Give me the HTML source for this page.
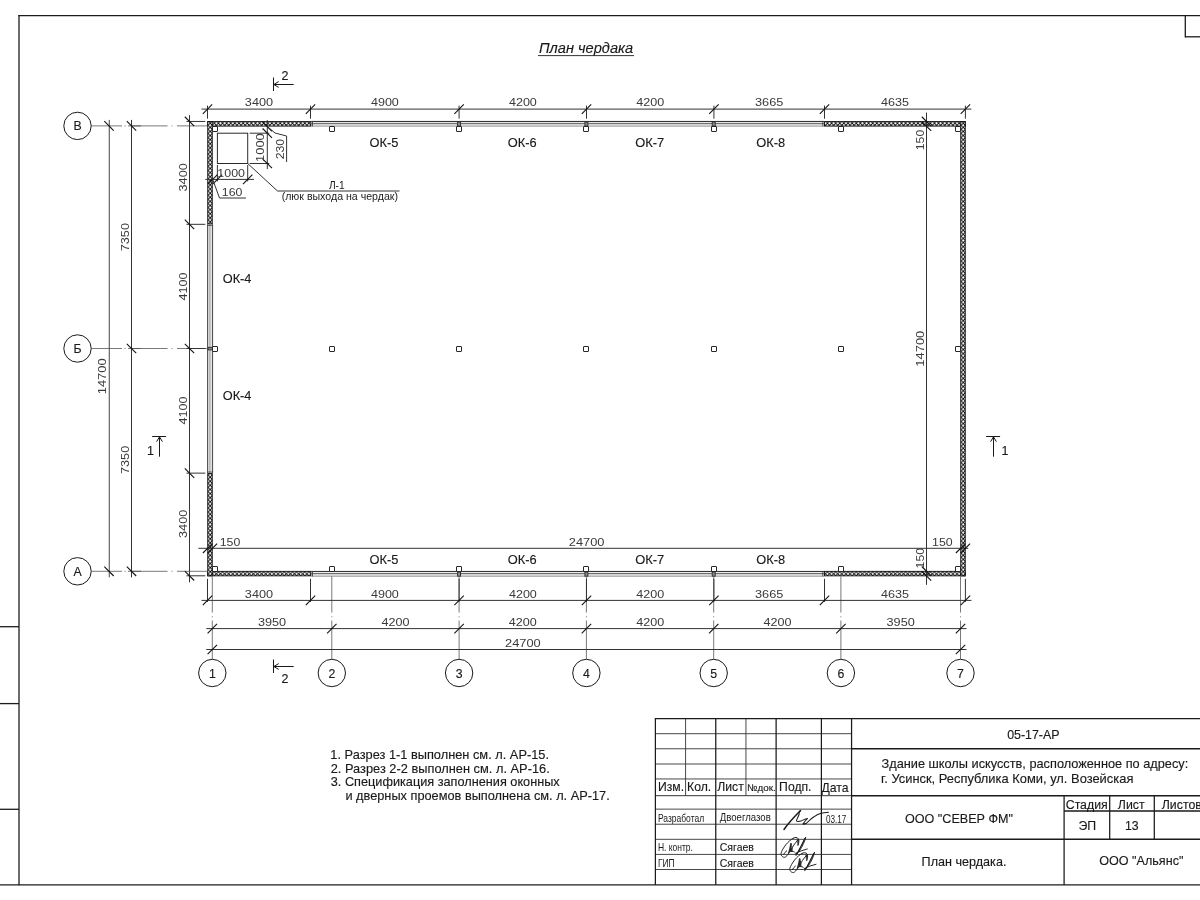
<!DOCTYPE html>
<html lang="ru"><head><meta charset="utf-8"><title>План чердака</title>
<style>html,body{margin:0;padding:0;background:#fff;}body{width:1200px;height:900px;overflow:hidden;}svg{display:block;will-change:transform;font-family:'Liberation Sans', sans-serif;}</style></head>
<body>
<svg width="1200" height="900" viewBox="0 0 1200 900">
<rect width="1200" height="900" fill="#fff"/>
<line x1="18.40" y1="15.70" x2="1200.00" y2="15.70" stroke="#1c1c1c" stroke-width="1.3" />
<line x1="19.00" y1="15.10" x2="19.00" y2="885.30" stroke="#1c1c1c" stroke-width="1.3" />
<line x1="0.00" y1="884.90" x2="1200.00" y2="884.90" stroke="#1c1c1c" stroke-width="1.15" />
<line x1="0.00" y1="626.70" x2="19.00" y2="626.70" stroke="#1c1c1c" stroke-width="1.3" />
<line x1="0.00" y1="703.60" x2="19.00" y2="703.60" stroke="#1c1c1c" stroke-width="1.3" />
<line x1="0.00" y1="809.30" x2="19.00" y2="809.30" stroke="#1c1c1c" stroke-width="1.3" />
<line x1="1185.30" y1="15.70" x2="1185.30" y2="37.40" stroke="#1c1c1c" stroke-width="1.3" />
<line x1="1185.30" y1="36.80" x2="1200.00" y2="36.80" stroke="#1c1c1c" stroke-width="1.3" />
<line x1="655.40" y1="733.69" x2="851.57" y2="733.69" stroke="#333" stroke-width="0.9" />
<line x1="655.40" y1="748.78" x2="851.57" y2="748.78" stroke="#333" stroke-width="0.9" />
<line x1="655.40" y1="764.00" x2="851.57" y2="764.00" stroke="#333" stroke-width="0.9" />
<line x1="655.40" y1="778.96" x2="851.57" y2="778.96" stroke="#333" stroke-width="0.9" />
<line x1="655.40" y1="795.70" x2="851.57" y2="795.70" stroke="#333" stroke-width="1.0" />
<line x1="655.40" y1="809.14" x2="851.57" y2="809.14" stroke="#333" stroke-width="0.9" />
<line x1="655.40" y1="824.23" x2="851.57" y2="824.23" stroke="#333" stroke-width="0.9" />
<line x1="655.40" y1="839.32" x2="851.57" y2="839.32" stroke="#333" stroke-width="0.9" />
<line x1="655.40" y1="854.41" x2="851.57" y2="854.41" stroke="#333" stroke-width="0.9" />
<line x1="655.40" y1="869.50" x2="851.57" y2="869.50" stroke="#333" stroke-width="0.9" />
<line x1="655.40" y1="718.60" x2="655.40" y2="885.00" stroke="#1a1a1a" stroke-width="1.25" />
<line x1="685.58" y1="718.60" x2="685.58" y2="795.70" stroke="#333" stroke-width="0.9" />
<line x1="715.76" y1="718.60" x2="715.76" y2="885.00" stroke="#1a1a1a" stroke-width="1.25" />
<line x1="745.94" y1="718.60" x2="745.94" y2="795.70" stroke="#333" stroke-width="0.9" />
<line x1="776.12" y1="718.60" x2="776.12" y2="885.00" stroke="#1a1a1a" stroke-width="1.25" />
<line x1="821.39" y1="718.60" x2="821.39" y2="885.00" stroke="#1a1a1a" stroke-width="1.25" />
<line x1="851.57" y1="718.60" x2="851.57" y2="885.00" stroke="#1a1a1a" stroke-width="1.25" />
<line x1="654.80" y1="718.60" x2="1200.00" y2="718.60" stroke="#1a1a1a" stroke-width="1.4" />
<line x1="851.57" y1="748.78" x2="1200.00" y2="748.78" stroke="#1a1a1a" stroke-width="1.4" />
<line x1="851.57" y1="795.70" x2="1200.00" y2="795.70" stroke="#1a1a1a" stroke-width="1.4" />
<line x1="851.57" y1="839.32" x2="1200.00" y2="839.32" stroke="#1a1a1a" stroke-width="1.4" />
<line x1="1064.10" y1="795.70" x2="1064.10" y2="885.00" stroke="#1a1a1a" stroke-width="1.25" />
<line x1="1109.70" y1="795.70" x2="1109.70" y2="839.32" stroke="#1a1a1a" stroke-width="1.25" />
<line x1="1154.30" y1="795.70" x2="1154.30" y2="839.32" stroke="#1a1a1a" stroke-width="1.25" />
<line x1="1064.10" y1="811.00" x2="1200.00" y2="811.00" stroke="#1a1a1a" stroke-width="1.4" />
<text transform="translate(657.90 790.60)" font-size="12.2" text-anchor="start" fill="#1a1a1a" stroke="#1a1a1a" stroke-width="0.14">Изм.</text>
<text transform="translate(687.08 790.60)" font-size="12.2" text-anchor="start" fill="#1a1a1a" stroke="#1a1a1a" stroke-width="0.14">Кол.</text>
<text transform="translate(717.26 790.60)" font-size="12.2" text-anchor="start" fill="#1a1a1a" stroke="#1a1a1a" stroke-width="0.14">Лист</text>
<text transform="translate(746.94 790.60)" font-size="9.9" text-anchor="start" fill="#1a1a1a" stroke="#1a1a1a" stroke-width="0.14">№док.</text>
<text transform="translate(779.12 790.60)" font-size="12.2" text-anchor="start" fill="#1a1a1a" stroke="#1a1a1a" stroke-width="0.14">Подп.</text>
<text transform="translate(821.59 791.50)" font-size="12.2" text-anchor="start" fill="#1a1a1a" stroke="#1a1a1a" stroke-width="0.14">Дата</text>
<text transform="translate(657.90 821.93) scale(0.850 1)" font-size="10" text-anchor="start" fill="#1a1a1a" >Разработал</text>
<text transform="translate(719.76 821.23) scale(0.960 1)" font-size="10" text-anchor="start" fill="#1a1a1a" >Двоеглазов</text>
<text transform="translate(825.89 822.83) scale(0.820 1)" font-size="10" text-anchor="start" fill="#1a1a1a" >03.17</text>
<text transform="translate(657.90 851.21) scale(0.850 1)" font-size="10" text-anchor="start" fill="#1a1a1a" >Н. контр.</text>
<text transform="translate(719.76 851.21)" font-size="10.5" text-anchor="start" fill="#1a1a1a" stroke="#1a1a1a" stroke-width="0.14">Сягаев</text>
<text transform="translate(657.90 866.50) scale(0.850 1)" font-size="10" text-anchor="start" fill="#1a1a1a" >ГИП</text>
<text transform="translate(719.76 866.50)" font-size="10.5" text-anchor="start" fill="#1a1a1a" stroke="#1a1a1a" stroke-width="0.14">Сягаев</text>
<text transform="translate(1033.30 738.50)" font-size="12.4" text-anchor="middle" fill="#1a1a1a" stroke="#1a1a1a" stroke-width="0.14">05-17-АР</text>
<text transform="translate(881.55 768.00) scale(1.013 1)" font-size="12.6" text-anchor="start" fill="#1a1a1a" stroke="#1a1a1a" stroke-width="0.14">Здание школы искусств, расположенное по адресу:</text>
<text transform="translate(881.10 783.20) scale(1.024 1)" font-size="12.6" text-anchor="start" fill="#1a1a1a" stroke="#1a1a1a" stroke-width="0.14">г. Усинск, Республика Коми, ул. Возейская</text>
<text transform="translate(959.00 822.50)" font-size="12.6" text-anchor="middle" fill="#1a1a1a" stroke="#1a1a1a" stroke-width="0.14">ООО "СЕВЕР ФМ"</text>
<text transform="translate(964.00 866.10)" font-size="12.6" text-anchor="middle" fill="#1a1a1a" stroke="#1a1a1a" stroke-width="0.14">План чердака.</text>
<text transform="translate(1141.30 865.20)" font-size="12.6" text-anchor="middle" fill="#1a1a1a" stroke="#1a1a1a" stroke-width="0.14">ООО "Альянс"</text>
<text transform="translate(1086.70 808.80)" font-size="12.3" text-anchor="middle" fill="#1a1a1a" stroke="#1a1a1a" stroke-width="0.14">Стадия</text>
<text transform="translate(1131.20 808.80)" font-size="12.3" text-anchor="middle" fill="#1a1a1a" stroke="#1a1a1a" stroke-width="0.14">Лист</text>
<text transform="translate(1161.80 808.80)" font-size="12.3" text-anchor="start" fill="#1a1a1a" stroke="#1a1a1a" stroke-width="0.14">Листов</text>
<text transform="translate(1087.30 829.80)" font-size="12.3" text-anchor="middle" fill="#1a1a1a" stroke="#1a1a1a" stroke-width="0.14">ЭП</text>
<text transform="translate(1131.80 829.80)" font-size="12.3" text-anchor="middle" fill="#1a1a1a" stroke="#1a1a1a" stroke-width="0.14">13</text>
<path d="M160 510 C230 410 330 290 490 130" fill="none" stroke="#1a1a1a" stroke-width="30" stroke-linecap="round" stroke-linejoin="round" transform="translate(776 804) scale(0.05)"/>
<path d="M490 130 C470 160 455 185 462 205 C450 250 415 300 408 335 C420 355 470 350 510 335 C550 318 600 295 632 290 C600 320 560 370 538 402 C560 405 590 395 610 385 C680 310 780 225 900 185 C950 172 1000 168 1050 165" fill="none" stroke="#1a1a1a" stroke-width="20" stroke-linecap="round" stroke-linejoin="round" transform="translate(776 804) scale(0.05)"/>
<path d="M345 125 C250 170 130 320 100 430 C95 480 150 520 190 500 C230 470 260 420 300 360 C330 300 380 220 420 180 M345 125 C370 100 430 100 450 140 C465 180 455 230 440 265 M300 230 C290 290 270 370 250 420 M300 230 C320 290 330 340 320 385 M260 400 C300 380 340 380 370 400 M150 450 C165 420 190 395 215 375 M400 470 C450 380 540 200 595 100 C585 170 520 300 480 360 C460 390 430 420 400 440 M420 440 C470 350 540 220 575 130 M390 425 C460 390 540 360 625 340" fill="none" stroke="#1a1a1a" stroke-width="19" stroke-linecap="round" stroke-linejoin="round" transform="translate(776 832) scale(0.05)"/>
<path d="M290 250 L320 380 L270 390 Z M420 150 L455 160 L440 260 Z" fill="#222" stroke="#222" stroke-width="8" stroke-linecap="round" stroke-linejoin="round" transform="translate(776 832) scale(0.05)"/>
<path d="M345 125 C250 170 130 320 100 430 C95 480 150 520 190 500 C230 470 260 420 300 360 C330 300 380 220 420 180 M345 125 C370 100 430 100 450 140 C465 180 455 230 440 265 M300 230 C290 290 270 370 250 420 M300 230 C320 290 330 340 320 385 M260 400 C300 380 340 380 370 400 M150 450 C165 420 190 395 215 375 M400 470 C450 380 540 200 595 100 C585 170 520 300 480 360 C460 390 430 420 400 440 M420 440 C470 350 540 220 575 130 M390 425 C460 390 540 360 625 340" fill="none" stroke="#1a1a1a" stroke-width="19" stroke-linecap="round" stroke-linejoin="round" transform="translate(784.75 847.25) scale(0.05)"/>
<path d="M290 250 L320 380 L270 390 Z M420 150 L455 160 L440 260 Z" fill="#222" stroke="#222" stroke-width="8" stroke-linecap="round" stroke-linejoin="round" transform="translate(784.75 847.25) scale(0.05)"/>
<defs><pattern id="hx" width="4.115" height="4.115" patternUnits="userSpaceOnUse" patternTransform="translate(0.335 3.865)"><rect width="4.115" height="4.115" fill="#fff"/><path d="M-1 -1 L5.115 5.115 M-1 5.115 L5.115 -1" stroke="#000" stroke-width="0.85" fill="none"/></pattern></defs>
<rect x="311.30" y="123.80" width="512.70" height="2.30" fill="#d4d4d4"/>
<line x1="311.30" y1="121.45" x2="824.00" y2="121.45" stroke="#1c1c1c" stroke-width="0.95" />
<line x1="311.30" y1="123.35" x2="824.00" y2="123.35" stroke="#4a4a4a" stroke-width="0.9" />
<line x1="311.30" y1="126.30" x2="824.00" y2="126.30" stroke="#999" stroke-width="0.8" />
<line x1="312.50" y1="121.45" x2="312.50" y2="126.30" stroke="#333" stroke-width="0.8" />
<line x1="822.80" y1="121.45" x2="822.80" y2="126.30" stroke="#333" stroke-width="0.8" />
<rect x="457.60" y="121.95" width="3.00" height="4.15" fill="#8c8c8c" stroke="#2a2a2a" stroke-width="0.9" />
<rect x="584.90" y="121.95" width="3.00" height="4.15" fill="#8c8c8c" stroke="#2a2a2a" stroke-width="0.9" />
<rect x="712.20" y="121.95" width="3.00" height="4.15" fill="#8c8c8c" stroke="#2a2a2a" stroke-width="0.9" />
<rect x="311.30" y="574.00" width="512.70" height="2.20" fill="#d4d4d4"/>
<line x1="311.30" y1="571.45" x2="824.00" y2="571.45" stroke="#1c1c1c" stroke-width="0.95" />
<line x1="311.30" y1="573.40" x2="824.00" y2="573.40" stroke="#4a4a4a" stroke-width="0.9" />
<line x1="311.30" y1="576.40" x2="824.00" y2="576.40" stroke="#999" stroke-width="0.8" />
<line x1="312.50" y1="571.45" x2="312.50" y2="576.40" stroke="#333" stroke-width="0.8" />
<line x1="822.80" y1="571.45" x2="822.80" y2="576.40" stroke="#333" stroke-width="0.8" />
<rect x="457.60" y="571.95" width="3.00" height="4.25" fill="#8c8c8c" stroke="#2a2a2a" stroke-width="0.9" />
<rect x="584.90" y="571.95" width="3.00" height="4.25" fill="#8c8c8c" stroke="#2a2a2a" stroke-width="0.9" />
<rect x="712.20" y="571.95" width="3.00" height="4.25" fill="#8c8c8c" stroke="#2a2a2a" stroke-width="0.9" />
<rect x="207.60" y="224.32" width="5.0" height="248.82" fill="#e2e2e2"/>
<line x1="207.60" y1="224.32" x2="207.60" y2="473.13" stroke="#333" stroke-width="0.9" />
<line x1="212.60" y1="224.32" x2="212.60" y2="473.13" stroke="#333" stroke-width="0.9" />
<line x1="209.90" y1="224.32" x2="209.90" y2="473.13" stroke="#9a9a9a" stroke-width="0.9" />
<line x1="207.30" y1="225.42" x2="212.70" y2="225.42" stroke="#333" stroke-width="0.8" />
<line x1="207.30" y1="472.03" x2="212.70" y2="472.03" stroke="#333" stroke-width="0.8" />
<rect x="208.10" y="347.30" width="4.40" height="2.60" fill="#8c8c8c" stroke="#2a2a2a" stroke-width="0.9" />
<rect x="207.75" y="121.60" width="103.10" height="4.50" fill="url(#hx)" stroke="#0c0c0c" stroke-width="0.9"/>
<rect x="824.45" y="121.60" width="140.80" height="4.50" fill="url(#hx)" stroke="#0c0c0c" stroke-width="0.9"/>
<rect x="207.75" y="571.35" width="103.10" height="4.50" fill="url(#hx)" stroke="#0c0c0c" stroke-width="0.9"/>
<rect x="824.45" y="571.35" width="140.80" height="4.50" fill="url(#hx)" stroke="#0c0c0c" stroke-width="0.9"/>
<rect x="207.75" y="121.60" width="4.50" height="102.27" fill="url(#hx)" stroke="#0c0c0c" stroke-width="0.9"/>
<rect x="207.75" y="473.58" width="4.50" height="102.27" fill="url(#hx)" stroke="#0c0c0c" stroke-width="0.9"/>
<rect x="960.75" y="121.60" width="4.50" height="454.25" fill="url(#hx)" stroke="#0c0c0c" stroke-width="0.9"/>
<rect x="212.50" y="126.50" width="5.00" height="5.00" fill="#fff" stroke="#262626" stroke-width="1.0" rx="0.4"/>
<rect x="212.50" y="346.50" width="5.00" height="5.00" fill="#fff" stroke="#262626" stroke-width="1.0" rx="0.4"/>
<rect x="212.50" y="566.50" width="5.00" height="5.00" fill="#fff" stroke="#262626" stroke-width="1.0" rx="0.4"/>
<rect x="329.50" y="126.50" width="5.00" height="5.00" fill="#fff" stroke="#262626" stroke-width="1.0" rx="0.4"/>
<rect x="329.50" y="346.50" width="5.00" height="5.00" fill="#fff" stroke="#262626" stroke-width="1.0" rx="0.4"/>
<rect x="329.50" y="566.50" width="5.00" height="5.00" fill="#fff" stroke="#262626" stroke-width="1.0" rx="0.4"/>
<rect x="456.50" y="126.50" width="5.00" height="5.00" fill="#fff" stroke="#262626" stroke-width="1.0" rx="0.4"/>
<rect x="456.50" y="346.50" width="5.00" height="5.00" fill="#fff" stroke="#262626" stroke-width="1.0" rx="0.4"/>
<rect x="456.50" y="566.50" width="5.00" height="5.00" fill="#fff" stroke="#262626" stroke-width="1.0" rx="0.4"/>
<rect x="583.50" y="126.50" width="5.00" height="5.00" fill="#fff" stroke="#262626" stroke-width="1.0" rx="0.4"/>
<rect x="583.50" y="346.50" width="5.00" height="5.00" fill="#fff" stroke="#262626" stroke-width="1.0" rx="0.4"/>
<rect x="583.50" y="566.50" width="5.00" height="5.00" fill="#fff" stroke="#262626" stroke-width="1.0" rx="0.4"/>
<rect x="711.50" y="126.50" width="5.00" height="5.00" fill="#fff" stroke="#262626" stroke-width="1.0" rx="0.4"/>
<rect x="711.50" y="346.50" width="5.00" height="5.00" fill="#fff" stroke="#262626" stroke-width="1.0" rx="0.4"/>
<rect x="711.50" y="566.50" width="5.00" height="5.00" fill="#fff" stroke="#262626" stroke-width="1.0" rx="0.4"/>
<rect x="838.50" y="126.50" width="5.00" height="5.00" fill="#fff" stroke="#262626" stroke-width="1.0" rx="0.4"/>
<rect x="838.50" y="346.50" width="5.00" height="5.00" fill="#fff" stroke="#262626" stroke-width="1.0" rx="0.4"/>
<rect x="838.50" y="566.50" width="5.00" height="5.00" fill="#fff" stroke="#262626" stroke-width="1.0" rx="0.4"/>
<rect x="955.50" y="126.50" width="5.00" height="5.00" fill="#fff" stroke="#262626" stroke-width="1.0" rx="0.4"/>
<rect x="955.50" y="346.50" width="5.00" height="5.00" fill="#fff" stroke="#262626" stroke-width="1.0" rx="0.4"/>
<rect x="955.50" y="566.50" width="5.00" height="5.00" fill="#fff" stroke="#262626" stroke-width="1.0" rx="0.4"/>
<rect x="217.40" y="133.20" width="30.30" height="30.30" fill="none" stroke="#2a2a2a" stroke-width="1.0" />
<line x1="91.20" y1="125.90" x2="122.00" y2="125.90" stroke="#6a6a6a" stroke-width="0.9" />
<line x1="124.60" y1="125.90" x2="125.60" y2="125.90" stroke="#6a6a6a" stroke-width="0.9" />
<line x1="128.00" y1="125.90" x2="167.50" y2="125.90" stroke="#6a6a6a" stroke-width="0.9" />
<line x1="171.60" y1="125.90" x2="172.60" y2="125.90" stroke="#6a6a6a" stroke-width="0.9" />
<line x1="177.00" y1="125.90" x2="207.30" y2="125.90" stroke="#6a6a6a" stroke-width="0.9" />
<line x1="131.50" y1="125.90" x2="141.00" y2="125.90" stroke="#555" stroke-width="0.9" />
<circle cx="77.5" cy="125.90" r="13.7" fill="#fff" stroke="#1a1a1a" stroke-width="1.0"/>
<text transform="translate(77.50 130.20)" font-size="12.3" text-anchor="middle" fill="#1a1a1a" stroke="#1a1a1a" stroke-width="0.14">В</text>
<line x1="91.20" y1="348.50" x2="122.00" y2="348.50" stroke="#6a6a6a" stroke-width="0.9" />
<line x1="124.60" y1="348.50" x2="125.60" y2="348.50" stroke="#6a6a6a" stroke-width="0.9" />
<line x1="128.00" y1="348.50" x2="167.50" y2="348.50" stroke="#6a6a6a" stroke-width="0.9" />
<line x1="171.60" y1="348.50" x2="172.60" y2="348.50" stroke="#6a6a6a" stroke-width="0.9" />
<line x1="177.00" y1="348.50" x2="207.30" y2="348.50" stroke="#6a6a6a" stroke-width="0.9" />
<line x1="131.50" y1="348.50" x2="141.00" y2="348.50" stroke="#555" stroke-width="0.9" />
<circle cx="77.5" cy="348.50" r="13.7" fill="#fff" stroke="#1a1a1a" stroke-width="1.0"/>
<text transform="translate(77.50 352.80)" font-size="12.3" text-anchor="middle" fill="#1a1a1a" stroke="#1a1a1a" stroke-width="0.14">Б</text>
<line x1="91.20" y1="571.30" x2="122.00" y2="571.30" stroke="#6a6a6a" stroke-width="0.9" />
<line x1="124.60" y1="571.30" x2="125.60" y2="571.30" stroke="#6a6a6a" stroke-width="0.9" />
<line x1="128.00" y1="571.30" x2="167.50" y2="571.30" stroke="#6a6a6a" stroke-width="0.9" />
<line x1="171.60" y1="571.30" x2="172.60" y2="571.30" stroke="#6a6a6a" stroke-width="0.9" />
<line x1="177.00" y1="571.30" x2="207.30" y2="571.30" stroke="#6a6a6a" stroke-width="0.9" />
<line x1="131.50" y1="571.30" x2="141.00" y2="571.30" stroke="#555" stroke-width="0.9" />
<circle cx="77.5" cy="571.30" r="13.7" fill="#fff" stroke="#1a1a1a" stroke-width="1.0"/>
<text transform="translate(77.50 575.60)" font-size="12.3" text-anchor="middle" fill="#1a1a1a" stroke="#1a1a1a" stroke-width="0.14">А</text>
<line x1="212.30" y1="576.30" x2="212.30" y2="612.50" stroke="#6a6a6a" stroke-width="0.9" />
<line x1="212.30" y1="616.30" x2="212.30" y2="617.30" stroke="#6a6a6a" stroke-width="0.9" />
<line x1="212.30" y1="620.50" x2="212.30" y2="659.30" stroke="#6a6a6a" stroke-width="0.9" />
<circle cx="212.30" cy="673.0" r="13.7" fill="#fff" stroke="#1a1a1a" stroke-width="1.0"/>
<text transform="translate(212.30 677.60)" font-size="12.3" text-anchor="middle" fill="#1a1a1a" stroke="#1a1a1a" stroke-width="0.14">1</text>
<line x1="331.80" y1="576.30" x2="331.80" y2="612.50" stroke="#6a6a6a" stroke-width="0.9" />
<line x1="331.80" y1="616.30" x2="331.80" y2="617.30" stroke="#6a6a6a" stroke-width="0.9" />
<line x1="331.80" y1="620.50" x2="331.80" y2="659.30" stroke="#6a6a6a" stroke-width="0.9" />
<circle cx="331.80" cy="673.0" r="13.7" fill="#fff" stroke="#1a1a1a" stroke-width="1.0"/>
<text transform="translate(331.80 677.60)" font-size="12.3" text-anchor="middle" fill="#1a1a1a" stroke="#1a1a1a" stroke-width="0.14">2</text>
<line x1="459.10" y1="576.30" x2="459.10" y2="612.50" stroke="#6a6a6a" stroke-width="0.9" />
<line x1="459.10" y1="616.30" x2="459.10" y2="617.30" stroke="#6a6a6a" stroke-width="0.9" />
<line x1="459.10" y1="620.50" x2="459.10" y2="659.30" stroke="#6a6a6a" stroke-width="0.9" />
<circle cx="459.10" cy="673.0" r="13.7" fill="#fff" stroke="#1a1a1a" stroke-width="1.0"/>
<text transform="translate(459.10 677.60)" font-size="12.3" text-anchor="middle" fill="#1a1a1a" stroke="#1a1a1a" stroke-width="0.14">3</text>
<line x1="586.40" y1="576.30" x2="586.40" y2="612.50" stroke="#6a6a6a" stroke-width="0.9" />
<line x1="586.40" y1="616.30" x2="586.40" y2="617.30" stroke="#6a6a6a" stroke-width="0.9" />
<line x1="586.40" y1="620.50" x2="586.40" y2="659.30" stroke="#6a6a6a" stroke-width="0.9" />
<circle cx="586.40" cy="673.0" r="13.7" fill="#fff" stroke="#1a1a1a" stroke-width="1.0"/>
<text transform="translate(586.40 677.60)" font-size="12.3" text-anchor="middle" fill="#1a1a1a" stroke="#1a1a1a" stroke-width="0.14">4</text>
<line x1="713.70" y1="576.30" x2="713.70" y2="612.50" stroke="#6a6a6a" stroke-width="0.9" />
<line x1="713.70" y1="616.30" x2="713.70" y2="617.30" stroke="#6a6a6a" stroke-width="0.9" />
<line x1="713.70" y1="620.50" x2="713.70" y2="659.30" stroke="#6a6a6a" stroke-width="0.9" />
<circle cx="713.70" cy="673.0" r="13.7" fill="#fff" stroke="#1a1a1a" stroke-width="1.0"/>
<text transform="translate(713.70 677.60)" font-size="12.3" text-anchor="middle" fill="#1a1a1a" stroke="#1a1a1a" stroke-width="0.14">5</text>
<line x1="840.90" y1="576.30" x2="840.90" y2="612.50" stroke="#6a6a6a" stroke-width="0.9" />
<line x1="840.90" y1="616.30" x2="840.90" y2="617.30" stroke="#6a6a6a" stroke-width="0.9" />
<line x1="840.90" y1="620.50" x2="840.90" y2="659.30" stroke="#6a6a6a" stroke-width="0.9" />
<circle cx="840.90" cy="673.0" r="13.7" fill="#fff" stroke="#1a1a1a" stroke-width="1.0"/>
<text transform="translate(840.90 677.60)" font-size="12.3" text-anchor="middle" fill="#1a1a1a" stroke="#1a1a1a" stroke-width="0.14">6</text>
<line x1="960.50" y1="576.30" x2="960.50" y2="612.50" stroke="#6a6a6a" stroke-width="0.9" />
<line x1="960.50" y1="616.30" x2="960.50" y2="617.30" stroke="#6a6a6a" stroke-width="0.9" />
<line x1="960.50" y1="620.50" x2="960.50" y2="659.30" stroke="#6a6a6a" stroke-width="0.9" />
<circle cx="960.50" cy="673.0" r="13.7" fill="#fff" stroke="#1a1a1a" stroke-width="1.0"/>
<text transform="translate(960.50 677.60)" font-size="12.3" text-anchor="middle" fill="#1a1a1a" stroke="#1a1a1a" stroke-width="0.14">7</text>
<line x1="201.50" y1="109.10" x2="971.40" y2="109.10" stroke="#333" stroke-width="1.0" />
<line x1="207.50" y1="105.60" x2="207.50" y2="118.70" stroke="#333" stroke-width="1.0" />
<line x1="202.80" y1="113.80" x2="212.20" y2="104.40" stroke="#111" stroke-width="1.08" />
<line x1="310.50" y1="105.60" x2="310.50" y2="118.70" stroke="#333" stroke-width="1.0" />
<line x1="305.80" y1="113.80" x2="315.20" y2="104.40" stroke="#111" stroke-width="1.08" />
<line x1="459.09" y1="105.60" x2="459.09" y2="118.70" stroke="#333" stroke-width="1.0" />
<line x1="454.39" y1="113.80" x2="463.79" y2="104.40" stroke="#111" stroke-width="1.08" />
<line x1="586.50" y1="105.60" x2="586.50" y2="118.70" stroke="#333" stroke-width="1.0" />
<line x1="581.80" y1="113.80" x2="591.20" y2="104.40" stroke="#111" stroke-width="1.08" />
<line x1="713.91" y1="105.60" x2="713.91" y2="118.70" stroke="#333" stroke-width="1.0" />
<line x1="709.21" y1="113.80" x2="718.61" y2="104.40" stroke="#111" stroke-width="1.08" />
<line x1="824.50" y1="105.60" x2="824.50" y2="118.70" stroke="#333" stroke-width="1.0" />
<line x1="819.80" y1="113.80" x2="829.20" y2="104.40" stroke="#111" stroke-width="1.08" />
<line x1="965.40" y1="105.60" x2="965.40" y2="118.70" stroke="#333" stroke-width="1.0" />
<line x1="960.70" y1="113.80" x2="970.10" y2="104.40" stroke="#111" stroke-width="1.08" />
<text transform="translate(244.84 106.30) scale(1.176 1)" font-size="10.8" text-anchor="start" fill="#3a3a3a">3400</text>
<text transform="translate(370.89 106.30) scale(1.165 1)" font-size="10.8" text-anchor="start" fill="#3a3a3a">4900</text>
<text transform="translate(508.89 106.30) scale(1.165 1)" font-size="10.8" text-anchor="start" fill="#3a3a3a">4200</text>
<text transform="translate(636.30 106.30) scale(1.165 1)" font-size="10.8" text-anchor="start" fill="#3a3a3a">4200</text>
<text transform="translate(755.05 106.30) scale(1.178 1)" font-size="10.8" text-anchor="start" fill="#3a3a3a">3665</text>
<text transform="translate(881.05 106.30) scale(1.168 1)" font-size="10.8" text-anchor="start" fill="#3a3a3a">4635</text>
<line x1="201.50" y1="600.40" x2="971.40" y2="600.40" stroke="#333" stroke-width="1.0" />
<line x1="207.50" y1="578.80" x2="207.50" y2="601.90" stroke="#333" stroke-width="1.0" />
<line x1="202.80" y1="605.10" x2="212.20" y2="595.70" stroke="#111" stroke-width="1.08" />
<line x1="310.50" y1="578.80" x2="310.50" y2="601.90" stroke="#333" stroke-width="1.0" />
<line x1="305.80" y1="605.10" x2="315.20" y2="595.70" stroke="#111" stroke-width="1.08" />
<line x1="459.09" y1="578.80" x2="459.09" y2="601.90" stroke="#333" stroke-width="1.0" />
<line x1="454.39" y1="605.10" x2="463.79" y2="595.70" stroke="#111" stroke-width="1.08" />
<line x1="586.50" y1="578.80" x2="586.50" y2="601.90" stroke="#333" stroke-width="1.0" />
<line x1="581.80" y1="605.10" x2="591.20" y2="595.70" stroke="#111" stroke-width="1.08" />
<line x1="713.91" y1="578.80" x2="713.91" y2="601.90" stroke="#333" stroke-width="1.0" />
<line x1="709.21" y1="605.10" x2="718.61" y2="595.70" stroke="#111" stroke-width="1.08" />
<line x1="824.50" y1="578.80" x2="824.50" y2="601.90" stroke="#333" stroke-width="1.0" />
<line x1="819.80" y1="605.10" x2="829.20" y2="595.70" stroke="#111" stroke-width="1.08" />
<line x1="965.40" y1="578.80" x2="965.40" y2="601.90" stroke="#333" stroke-width="1.0" />
<line x1="960.70" y1="605.10" x2="970.10" y2="595.70" stroke="#111" stroke-width="1.08" />
<text transform="translate(244.84 597.60) scale(1.176 1)" font-size="10.8" text-anchor="start" fill="#3a3a3a">3400</text>
<text transform="translate(370.89 597.60) scale(1.165 1)" font-size="10.8" text-anchor="start" fill="#3a3a3a">4900</text>
<text transform="translate(508.89 597.60) scale(1.165 1)" font-size="10.8" text-anchor="start" fill="#3a3a3a">4200</text>
<text transform="translate(636.30 597.60) scale(1.165 1)" font-size="10.8" text-anchor="start" fill="#3a3a3a">4200</text>
<text transform="translate(755.05 597.60) scale(1.178 1)" font-size="10.8" text-anchor="start" fill="#3a3a3a">3665</text>
<text transform="translate(881.05 597.60) scale(1.168 1)" font-size="10.8" text-anchor="start" fill="#3a3a3a">4635</text>
<line x1="206.30" y1="628.60" x2="966.50" y2="628.60" stroke="#333" stroke-width="1.0" />
<line x1="207.60" y1="633.30" x2="217.00" y2="623.90" stroke="#111" stroke-width="1.08" />
<line x1="327.10" y1="633.30" x2="336.50" y2="623.90" stroke="#111" stroke-width="1.08" />
<line x1="454.40" y1="633.30" x2="463.80" y2="623.90" stroke="#111" stroke-width="1.08" />
<line x1="581.70" y1="633.30" x2="591.10" y2="623.90" stroke="#111" stroke-width="1.08" />
<line x1="709.00" y1="633.30" x2="718.40" y2="623.90" stroke="#111" stroke-width="1.08" />
<line x1="836.20" y1="633.30" x2="845.60" y2="623.90" stroke="#111" stroke-width="1.08" />
<line x1="955.80" y1="633.30" x2="965.20" y2="623.90" stroke="#111" stroke-width="1.08" />
<text transform="translate(257.89 625.80) scale(1.176 1)" font-size="10.8" text-anchor="start" fill="#3a3a3a">3950</text>
<text transform="translate(381.55 625.80) scale(1.165 1)" font-size="10.8" text-anchor="start" fill="#3a3a3a">4200</text>
<text transform="translate(508.85 625.80) scale(1.165 1)" font-size="10.8" text-anchor="start" fill="#3a3a3a">4200</text>
<text transform="translate(636.15 625.80) scale(1.165 1)" font-size="10.8" text-anchor="start" fill="#3a3a3a">4200</text>
<text transform="translate(763.40 625.80) scale(1.165 1)" font-size="10.8" text-anchor="start" fill="#3a3a3a">4200</text>
<text transform="translate(886.54 625.80) scale(1.176 1)" font-size="10.8" text-anchor="start" fill="#3a3a3a">3950</text>
<line x1="206.30" y1="649.50" x2="966.50" y2="649.50" stroke="#333" stroke-width="1.0" />
<line x1="207.60" y1="654.20" x2="217.00" y2="644.80" stroke="#111" stroke-width="1.08" />
<line x1="955.80" y1="654.20" x2="965.20" y2="644.80" stroke="#111" stroke-width="1.08" />
<text transform="translate(505.06 646.70) scale(1.189 1)" font-size="10.8" text-anchor="start" fill="#3a3a3a">24700</text>
<line x1="198.30" y1="548.30" x2="968.20" y2="548.30" stroke="#333" stroke-width="1.0" />
<line x1="202.90" y1="553.00" x2="212.30" y2="543.60" stroke="#111" stroke-width="1.08" />
<line x1="207.70" y1="553.00" x2="217.10" y2="543.60" stroke="#111" stroke-width="1.08" />
<line x1="955.90" y1="553.00" x2="965.30" y2="543.60" stroke="#111" stroke-width="1.08" />
<line x1="960.70" y1="553.00" x2="970.10" y2="543.60" stroke="#111" stroke-width="1.08" />
<text transform="translate(568.81 545.50) scale(1.189 1)" font-size="10.8" text-anchor="start" fill="#3a3a3a">24700</text>
<text transform="translate(219.77 545.50) scale(1.143 1)" font-size="10.8" text-anchor="start" fill="#3a3a3a">150</text>
<text transform="translate(932.07 545.50) scale(1.143 1)" font-size="10.8" text-anchor="start" fill="#3a3a3a">150</text>
<line x1="109.25" y1="119.90" x2="109.25" y2="577.30" stroke="#444" stroke-width="1.0" />
<line x1="104.30" y1="121.20" x2="113.70" y2="130.60" stroke="#111" stroke-width="1.08" />
<line x1="104.30" y1="566.60" x2="113.70" y2="576.00" stroke="#111" stroke-width="1.08" />
<text transform="translate(106.00 394.27) rotate(-90) scale(1.200 1)" font-size="10.8" text-anchor="start" fill="#3a3a3a">14700</text>
<line x1="131.50" y1="119.90" x2="131.50" y2="577.30" stroke="#333" stroke-width="1.0" />
<line x1="126.80" y1="121.20" x2="136.20" y2="130.60" stroke="#111" stroke-width="1.08" />
<line x1="126.80" y1="343.80" x2="136.20" y2="353.20" stroke="#111" stroke-width="1.08" />
<line x1="126.80" y1="566.60" x2="136.20" y2="576.00" stroke="#111" stroke-width="1.08" />
<text transform="translate(128.50 251.29) rotate(-90) scale(1.181 1)" font-size="10.8" text-anchor="start" fill="#3a3a3a">7350</text>
<text transform="translate(128.50 474.09) rotate(-90) scale(1.181 1)" font-size="10.8" text-anchor="start" fill="#3a3a3a">7350</text>
<line x1="189.50" y1="115.15" x2="189.50" y2="582.30" stroke="#333" stroke-width="1.0" />
<line x1="186.50" y1="121.45" x2="205.30" y2="121.45" stroke="#333" stroke-width="1.0" />
<line x1="184.80" y1="116.75" x2="194.20" y2="126.15" stroke="#111" stroke-width="1.08" />
<line x1="186.50" y1="224.32" x2="205.30" y2="224.32" stroke="#333" stroke-width="1.0" />
<line x1="184.80" y1="219.62" x2="194.20" y2="229.02" stroke="#111" stroke-width="1.08" />
<line x1="186.50" y1="348.50" x2="205.30" y2="348.50" stroke="#333" stroke-width="1.0" />
<line x1="184.80" y1="343.80" x2="194.20" y2="353.20" stroke="#111" stroke-width="1.08" />
<line x1="186.50" y1="473.13" x2="205.30" y2="473.13" stroke="#333" stroke-width="1.0" />
<line x1="184.80" y1="468.43" x2="194.20" y2="477.83" stroke="#111" stroke-width="1.08" />
<line x1="186.50" y1="575.80" x2="205.30" y2="575.80" stroke="#333" stroke-width="1.0" />
<line x1="184.80" y1="571.10" x2="194.20" y2="580.50" stroke="#111" stroke-width="1.08" />
<text transform="translate(186.50 191.46) rotate(-90) scale(1.176 1)" font-size="10.8" text-anchor="start" fill="#3a3a3a">3400</text>
<text transform="translate(186.50 300.40) rotate(-90) scale(1.165 1)" font-size="10.8" text-anchor="start" fill="#3a3a3a">4100</text>
<text transform="translate(186.50 424.60) rotate(-90) scale(1.165 1)" font-size="10.8" text-anchor="start" fill="#3a3a3a">4100</text>
<text transform="translate(186.50 537.96) rotate(-90) scale(1.176 1)" font-size="10.8" text-anchor="start" fill="#3a3a3a">3400</text>
<line x1="926.50" y1="112.65" x2="926.50" y2="584.80" stroke="#333" stroke-width="1.0" />
<line x1="921.80" y1="116.75" x2="931.20" y2="126.15" stroke="#111" stroke-width="1.08" />
<line x1="921.80" y1="121.55" x2="931.20" y2="130.95" stroke="#111" stroke-width="1.08" />
<line x1="921.80" y1="566.50" x2="931.20" y2="575.90" stroke="#111" stroke-width="1.08" />
<line x1="921.80" y1="571.30" x2="931.20" y2="580.70" stroke="#111" stroke-width="1.08" />
<text transform="translate(923.50 366.67) rotate(-90) scale(1.200 1)" font-size="10.8" text-anchor="start" fill="#3a3a3a">14700</text>
<text transform="translate(923.50 150.33) rotate(-90) scale(1.143 1)" font-size="10.8" text-anchor="start" fill="#3a3a3a">150</text>
<text transform="translate(923.50 568.43) rotate(-90) scale(1.143 1)" font-size="10.8" text-anchor="start" fill="#3a3a3a">150</text>
<line x1="205.30" y1="179.40" x2="254.00" y2="179.40" stroke="#333" stroke-width="1.0" />
<line x1="217.40" y1="165.00" x2="217.40" y2="181.40" stroke="#333" stroke-width="1.0" />
<line x1="247.70" y1="165.00" x2="247.70" y2="181.40" stroke="#333" stroke-width="1.0" />
<line x1="208.00" y1="184.10" x2="217.40" y2="174.70" stroke="#111" stroke-width="1.08" />
<line x1="212.70" y1="184.10" x2="222.10" y2="174.70" stroke="#111" stroke-width="1.08" />
<line x1="243.00" y1="184.10" x2="252.40" y2="174.70" stroke="#111" stroke-width="1.08" />
<text transform="translate(217.37 176.50) scale(1.147 1)" font-size="10.8" text-anchor="start" fill="#3a3a3a">1000</text>
<polyline points="212.7,179.4 219.5,198.0 246,198.0" fill="none" stroke="#333" stroke-width="1"/>
<text transform="translate(221.87 195.80) scale(1.143 1)" font-size="10.8" text-anchor="start" fill="#3a3a3a">160</text>
<line x1="267.30" y1="120.15" x2="267.30" y2="169.00" stroke="#333" stroke-width="1.0" />
<line x1="249.70" y1="133.20" x2="269.30" y2="133.20" stroke="#333" stroke-width="1.0" />
<line x1="249.70" y1="163.50" x2="269.30" y2="163.50" stroke="#333" stroke-width="1.0" />
<line x1="262.60" y1="121.85" x2="272.00" y2="131.25" stroke="#111" stroke-width="1.08" />
<line x1="262.60" y1="128.50" x2="272.00" y2="137.90" stroke="#111" stroke-width="1.08" />
<line x1="262.60" y1="158.80" x2="272.00" y2="168.20" stroke="#111" stroke-width="1.08" />
<text transform="translate(264.40 161.92) rotate(-90) scale(1.195 1)" font-size="10.8" text-anchor="start" fill="#3a3a3a">1000</text>
<polyline points="267.3,126.6 275,133 286.6,136 286.6,162" fill="none" stroke="#333" stroke-width="1"/>
<text transform="translate(284.20 159.31) rotate(-90) scale(1.137 1)" font-size="10.8" text-anchor="start" fill="#3a3a3a">230</text>
<polyline points="247.7,163.5 277.5,191.0 399.5,191.0" fill="none" stroke="#333" stroke-width="1"/>
<text transform="translate(336.80 188.60)" font-size="10.2" text-anchor="middle" fill="#1a1a1a" >Л-1</text>
<text transform="translate(339.80 200.30)" font-size="10.6" text-anchor="middle" fill="#1a1a1a" >(люк выхода на чердак)</text>
<text transform="translate(369.42 146.80) scale(0.973 1)" font-size="13.2" text-anchor="start" fill="#1a1a1a" stroke="#1a1a1a" stroke-width="0.14">ОК-5</text>
<text transform="translate(369.42 564.00) scale(0.973 1)" font-size="13.2" text-anchor="start" fill="#1a1a1a" stroke="#1a1a1a" stroke-width="0.14">ОК-5</text>
<text transform="translate(507.72 146.80) scale(0.973 1)" font-size="13.2" text-anchor="start" fill="#1a1a1a" stroke="#1a1a1a" stroke-width="0.14">ОК-6</text>
<text transform="translate(507.72 564.00) scale(0.973 1)" font-size="13.2" text-anchor="start" fill="#1a1a1a" stroke="#1a1a1a" stroke-width="0.14">ОК-6</text>
<text transform="translate(635.22 146.80) scale(0.977 1)" font-size="13.2" text-anchor="start" fill="#1a1a1a" stroke="#1a1a1a" stroke-width="0.14">ОК-7</text>
<text transform="translate(635.22 564.00) scale(0.977 1)" font-size="13.2" text-anchor="start" fill="#1a1a1a" stroke="#1a1a1a" stroke-width="0.14">ОК-7</text>
<text transform="translate(756.22 146.80) scale(0.973 1)" font-size="13.2" text-anchor="start" fill="#1a1a1a" stroke="#1a1a1a" stroke-width="0.14">ОК-8</text>
<text transform="translate(756.22 564.00) scale(0.973 1)" font-size="13.2" text-anchor="start" fill="#1a1a1a" stroke="#1a1a1a" stroke-width="0.14">ОК-8</text>
<text transform="translate(222.72 282.80) scale(0.968 1)" font-size="13.2" text-anchor="start" fill="#1a1a1a" stroke="#1a1a1a" stroke-width="0.14">ОК-4</text>
<text transform="translate(222.72 399.80) scale(0.968 1)" font-size="13.2" text-anchor="start" fill="#1a1a1a" stroke="#1a1a1a" stroke-width="0.14">ОК-4</text>
<line x1="273.50" y1="77.50" x2="273.50" y2="91.00" stroke="#1a1a1a" stroke-width="1.0" />
<line x1="273.50" y1="84.50" x2="293.70" y2="84.50" stroke="#1a1a1a" stroke-width="1.0" />
<polyline points="278.7,81.6 273.8,84.5 278.7,87.4" fill="none" stroke="#1a1a1a" stroke-width="1"/>
<text transform="translate(285.00 80.30)" font-size="12.5" text-anchor="middle" fill="#1a1a1a" stroke="#1a1a1a" stroke-width="0.14">2</text>
<line x1="273.50" y1="659.50" x2="273.50" y2="673.00" stroke="#1a1a1a" stroke-width="1.0" />
<line x1="273.50" y1="666.50" x2="293.70" y2="666.50" stroke="#1a1a1a" stroke-width="1.0" />
<polyline points="278.7,663.6 273.8,666.5 278.7,669.4" fill="none" stroke="#1a1a1a" stroke-width="1"/>
<text transform="translate(285.00 682.60)" font-size="12.5" text-anchor="middle" fill="#1a1a1a" stroke="#1a1a1a" stroke-width="0.14">2</text>
<line x1="152.10" y1="436.50" x2="166.10" y2="436.50" stroke="#1a1a1a" stroke-width="1.0" />
<line x1="159.50" y1="436.50" x2="159.50" y2="456.70" stroke="#1a1a1a" stroke-width="1.0" />
<polyline points="156.6,441.7 159.5,436.8 162.4,441.7" fill="none" stroke="#1a1a1a" stroke-width="1"/>
<text transform="translate(150.50 455.00)" font-size="12.5" text-anchor="middle" fill="#1a1a1a" stroke="#1a1a1a" stroke-width="0.14">1</text>
<line x1="986.10" y1="436.50" x2="1000.10" y2="436.50" stroke="#1a1a1a" stroke-width="1.0" />
<line x1="993.50" y1="436.50" x2="993.50" y2="456.70" stroke="#1a1a1a" stroke-width="1.0" />
<polyline points="990.6,441.7 993.5,436.8 996.4,441.7" fill="none" stroke="#1a1a1a" stroke-width="1"/>
<text transform="translate(1005.00 455.00)" font-size="12.5" text-anchor="middle" fill="#1a1a1a" stroke="#1a1a1a" stroke-width="0.14">1</text>
<text transform="translate(586.00 52.80) scale(0.975 1)" font-size="15.0" text-anchor="middle" fill="#1a1a1a" font-style="italic" stroke="#1a1a1a" stroke-width="0.14">План чердака</text>
<line x1="538.00" y1="55.60" x2="634.00" y2="55.60" stroke="#2a2a2a" stroke-width="0.95" />
<text transform="translate(330.34 759.30) scale(1.033 1)" font-size="12.4" text-anchor="start" fill="#1a1a1a" stroke="#1a1a1a" stroke-width="0.14">1. Разрез 1-1 выполнен см. л. АР-15.</text>
<text transform="translate(330.66 772.80) scale(1.035 1)" font-size="12.4" text-anchor="start" fill="#1a1a1a" stroke="#1a1a1a" stroke-width="0.14">2. Разрез 2-2 выполнен см. л. АР-16.</text>
<text transform="translate(330.79 786.20) scale(1.027 1)" font-size="12.4" text-anchor="start" fill="#1a1a1a" stroke="#1a1a1a" stroke-width="0.14">3. Спецификация заполнения оконных</text>
<text transform="translate(345.41 799.50) scale(1.030 1)" font-size="12.4" text-anchor="start" fill="#1a1a1a" stroke="#1a1a1a" stroke-width="0.14">и дверных проемов выполнена см. л. АР-17.</text>
</svg>
</body></html>
